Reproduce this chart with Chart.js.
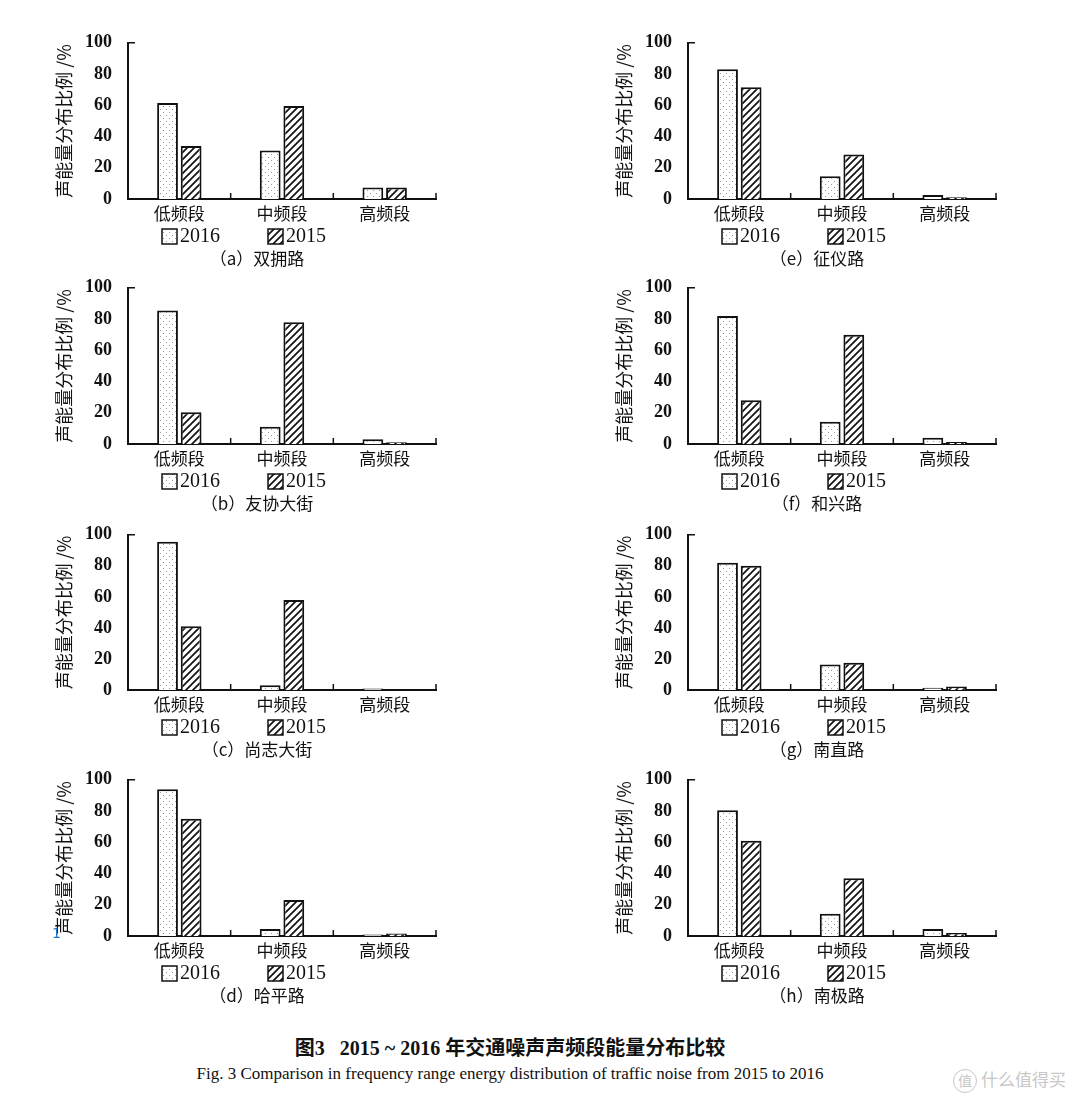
<!DOCTYPE html>
<html>
<head>
<meta charset="utf-8">
<script src="https://cdn.jsdelivr.net/npm/chart.js@4.4.0/dist/chart.umd.min.js"></script>
<style>
  body { margin: 0; background: #fff; }
  #page { position: relative; width: 1080px; height: 1099px; overflow: hidden; background: #fff; }
  #page canvas { position: absolute; }
  .cap-cn { position: absolute; left: 0; width: 1020px; top: 1032px; text-align: center;
    font: bold 20px "Liberation Serif", "Noto Sans CJK SC", serif; color: #111; }
  .cap-en { position: absolute; left: 0; width: 1020px; top: 1064px; text-align: center;
    font: 17px "Liberation Serif", serif; color: #111; }
  .mark { position: absolute; left: 953px; top: 1066px; font: 17px "Noto Sans CJK SC", sans-serif; color: #c8c8c8; }
  .mark b { display: inline-block; width: 22px; height: 22px; line-height: 21px; text-align: center;
    border: 1.5px solid #c8c8c8; border-radius: 50%; font-weight: normal; font-size: 14px; margin-right: 4px; }
  .blue { position: absolute; left: 52px; top: 925px; z-index: 5; font: 14px "DejaVu Sans", sans-serif; color: #1f77c8; }
</style>
</head>
<body>
<div id="page">
  <div class="cap-cn">图3&nbsp;&nbsp;&nbsp;2015 ~ 2016 年交通噪声声频段能量分布比较</div>
  <div class="cap-en">Fig. 3 Comparison in frequency range energy distribution of traffic noise from 2015 to 2016</div>
  <div class="mark"><b>值</b>什么值得买</div>
  <div class="blue">1</div>
</div>
<script>
const categories = ['低频段', '中频段', '高频段'];
const seriesLabels = ['2016', '2015'];
const yTicks = [0, 20, 40, 60, 80, 100];
const panelTitles = ['（a）双拥路', '（b）友协大街', '（c）尚志大街', '（d）哈平路',
                     '（e）征仪路', '（f）和兴路', '（g）南直路', '（h）南极路'];

// 声能量分布比例 (%), [低频段, 中频段, 高频段]
const shuangyong2016 = [61.5, 31, 7.3];
const shuangyong2015 = [34, 59.5, 7.3];
const youxie2016 = [85.5, 11, 3];
const youxie2015 = [20.3, 78, 1.2];
const shangzhi2016 = [95.5, 3, 1];
const shangzhi2015 = [41, 58, 0];
const haping2016 = [94, 4.5, 1];
const haping2015 = [75, 23, 1.6];
const zhengyi2016 = [83, 14.5, 2.5];
const zhengyi2015 = [71.5, 28.5, 1.2];
const hexing2016 = [82, 14.3, 4];
const hexing2015 = [28, 70, 1.3];
const nanzhi2016 = [82, 16.5, 1.5];
const nanzhi2015 = [80, 17.5, 2.3];
const nanji2016 = [80.5, 14.2, 4.5];
const nanji2015 = [61, 37, 2];

const panelValues = [
  [shuangyong2016, shuangyong2015], [youxie2016, youxie2015],
  [shangzhi2016, shangzhi2015], [haping2016, haping2015],
  [zhengyi2016, zhengyi2015], [hexing2016, hexing2015],
  [nanzhi2016, nanzhi2015], [nanji2016, nanji2015]
];

// page layout: canvas left, plot top, plot bottom
const colLeft = [45, 605];
const rowPlot = [[38, 199], [283, 444], [530, 690], [775, 936]];

function dotPattern() {
  const c = document.createElement('canvas');
  c.width = 6; c.height = 6;
  const g = c.getContext('2d');
  g.fillStyle = '#fff'; g.fillRect(0, 0, 6, 6);
  g.fillStyle = '#9a9a9a';
  g.fillRect(1, 1, 1, 1);
  g.fillRect(4, 4, 1, 1);
  return g.createPattern(c, 'repeat');
}

function hatchPattern() {
  const s = 7;
  const c = document.createElement('canvas');
  c.width = s; c.height = s;
  const g = c.getContext('2d');
  g.fillStyle = '#fff'; g.fillRect(0, 0, s, s);
  g.strokeStyle = '#111'; g.lineWidth = 1.7;
  g.beginPath();
  g.moveTo(-1, s + 1); g.lineTo(s + 1, -1);
  g.moveTo(-1, 1); g.lineTo(1, -1);
  g.moveTo(s - 1, s + 1); g.lineTo(s + 1, s - 1);
  g.stroke();
  return g.createPattern(c, 'repeat');
}

const fills = [dotPattern(), hatchPattern()];

const panelDecor = {
  id: 'panelDecor',
  afterDraw(chart, args, opts) {
    const { ctx, chartArea: a, scales: { x, y } } = chart;
    ctx.save();
    ctx.strokeStyle = '#111';
    ctx.lineWidth = 1.5;
    // inward ticks at category edges and at the top of y axis
    const half = (x.getPixelForValue(1) - x.getPixelForValue(0)) / 2;
    ctx.beginPath();
    categories.forEach((c, i) => {
      const px = x.getPixelForValue(i) + half;
      ctx.moveTo(px, a.bottom);
      ctx.lineTo(px, a.bottom - 6);
    });
    const top = y.getPixelForValue(100);
    ctx.moveTo(a.left, top);
    ctx.lineTo(a.left + 7, top);
    ctx.stroke();

    // legend
    chart.data.datasets.forEach((ds, k) => {
      const bx = a.left + 34 + k * 106;
      const by = a.bottom + 30;
      ctx.fillStyle = ds.backgroundColor;
      ctx.fillRect(bx, by, 15, 15);
      ctx.lineWidth = 1.5;
      ctx.strokeRect(bx, by, 15, 15);
      ctx.fillStyle = '#111';
      ctx.font = '20px "Liberation Serif"';
      ctx.textAlign = 'left';
      ctx.textBaseline = 'middle';
      ctx.fillText(ds.label, bx + 18, by + 8);
    });

    // panel caption
    ctx.fillStyle = '#111';
    ctx.font = '17px "Noto Sans CJK SC"';
    ctx.textAlign = 'center';
    ctx.textBaseline = 'middle';
    ctx.fillText(opts.text, a.left + 129, a.bottom + 60);
    ctx.restore();
  }
};

panelValues.forEach((vals, p) => {
  const col = Math.floor(p / 4);
  const row = p % 4;
  const [plotTop, plotBottom] = rowPlot[row];
  const padTop = 14, axisH = 30, padBottom = 50;
  const H = padTop + (plotBottom - plotTop) + axisH + padBottom;

  const canvas = document.createElement('canvas');
  canvas.width = 400;
  canvas.height = H;
  canvas.style.left = colLeft[col] + 'px';
  canvas.style.top = (plotTop - padTop) + 'px';
  document.getElementById('page').appendChild(canvas);

  new Chart(canvas, {
    type: 'bar',
    data: {
      labels: categories,
      datasets: seriesLabels.map((lab, k) => ({
        label: lab,
        data: vals[k],
        backgroundColor: fills[k],
        borderColor: '#111',
        borderWidth: 2,
        categoryPercentage: 0.46,
        barPercentage: 0.88
      }))
    },
    options: {
      responsive: false,
      animation: false,
      layout: { padding: { top: padTop, left: 0, right: 9, bottom: padBottom } },
      plugins: {
        legend: { display: false },
        tooltip: { enabled: false },
        panelDecor: { text: panelTitles[p] }
      },
      scales: {
        x: {
          grid: { display: false },
          border: { display: true, color: '#111', width: 2 },
          ticks: {
            color: '#111',
            padding: -4,
            font: { family: '"Noto Sans CJK SC", sans-serif', size: 17 }
          },
          afterFit: s => { s.height = axisH; }
        },
        y: {
          min: 0,
          max: 100,
          afterBuildTicks: s => { s.ticks = yTicks.map(v => ({ value: v })); },
          grid: { display: false },
          border: { display: true, color: '#111', width: 2 },
          ticks: {
            color: '#111',
            padding: 8,
            font: { family: '"Liberation Serif", serif', size: 18, weight: 'bold' }
          },
          title: {
            display: true,
            text: '声能量分布比例 /%',
            color: '#111',
            padding: { top: 8, bottom: 0 },
            font: { family: '"Noto Sans CJK SC", sans-serif', size: 18 }
          },
          afterFit: s => { s.width = 83; }
        }
      }
    },
    plugins: [panelDecor]
  });
});
</script>
</body>
</html>
